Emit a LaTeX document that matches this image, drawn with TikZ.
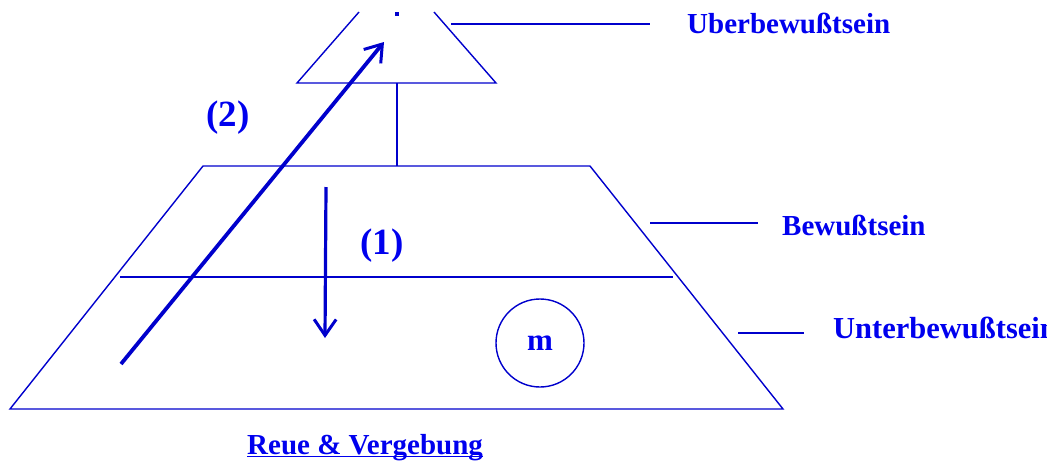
\documentclass[tikz,border=0pt]{standalone}
\usepackage{fontspec}
\setmainfont{Liberation Serif}
\usetikzlibrary{arrows.meta}
\definecolor{lineblue}{RGB}{0,0,204}
\definecolor{textblue}{RGB}{0,0,238}

\begin{document}
\begin{tikzpicture}[x=1pt, y=-1pt,
    thin_line/.style={draw=lineblue, line width=1.4pt},
    flow_arrow/.style={draw=lineblue, line width=3.2pt, -{Straight Barb[length=16pt,width=22pt,line width=3pt]}},
    lbl/.style={font=\fontsize{29}{34}\selectfont\bfseries, text=textblue, inner sep=0pt},
    step_lbl/.style={lbl, font=\fontsize{37}{40}\selectfont\bfseries},
    ]
    \useasboundingbox (0,0) rectangle (1047,464);

    % Pyramid
    \coordinate (bl) at (10,409); \coordinate (br) at (783,409);
    \coordinate (tl) at (203,166); \coordinate (tr) at (590,166);
    \draw[thin_line] (bl) -- (tl) -- (tr) -- (br) -- cycle;
    \coordinate (ml) at (120,277); \coordinate (mr) at (673,277);
    \draw[thin_line] (ml) -- (mr);

    % Top
    \coordinate (sl) at (297,83); \coordinate (sr) at (496,83);
    \coordinate (sl_top) at (359,12); \coordinate (sr_top) at (434,12);
    \draw[thin_line] (sl_top) -- (sl) -- (sr) -- (sr_top);
    \fill[lineblue] (395,12) rectangle (399,16);
    \coordinate (stem_top) at (397,83); \coordinate (stem_bot) at (397,166);
    \draw[thin_line] (stem_top) -- (stem_bot);

    % Nodes
    \node[lbl, anchor=base west] (ub_txt) at (687,33) {Uberbewußtsein};
    \node[lbl, anchor=base west] (bw_txt) at (782,235) {Bewußtsein};
    \node[lbl, anchor=base west, font=\fontsize{30.5}{34}\selectfont\bfseries] (unb_txt) at (833,338) {Unterbewußtsein};
    \node[step_lbl] (lab1) at (382,246) {(1)};
    \node[step_lbl] (lab2) at (228,118) {(2)};
    \node[circle, draw=lineblue, line width=1.4pt, minimum size=88pt, inner sep=0pt,
        font=\fontsize{31}{34}\selectfont\bfseries, text=textblue] (m) at (540,343) {m};
    \node[lbl, anchor=base west] (reue) at (247,454) {Reue \& Vergebung};
    \draw[textblue, line width=1.5pt] ([yshift=-2.5pt]reue.base west) -- ([yshift=-2.5pt]reue.base east);

    % Leader lines
    \coordinate (ub_a) at (451,24); \coordinate (ub_b) at (650,24);
    \coordinate (bw_a) at (650,223); \coordinate (bw_b) at (758,223);
    \coordinate (unb_a) at (738,333); \coordinate (unb_b) at (804,333);
    \draw[thin_line] (ub_a) -- (ub_b);
    \draw[thin_line] (bw_a) -- (bw_b);
    \draw[thin_line] (unb_a) -- (unb_b);

    % Arrows
    \coordinate (arr1_s) at (326,187); \coordinate (arr1_e) at (325,338);
    \coordinate (arr2_s) at (121,364); \coordinate (arr2_e) at (384,42);
    \draw[flow_arrow] (arr1_s) -- (arr1_e);
    \draw[flow_arrow, line width=3.8pt] (arr2_s) -- (arr2_e);
\end{tikzpicture}
\end{document}
